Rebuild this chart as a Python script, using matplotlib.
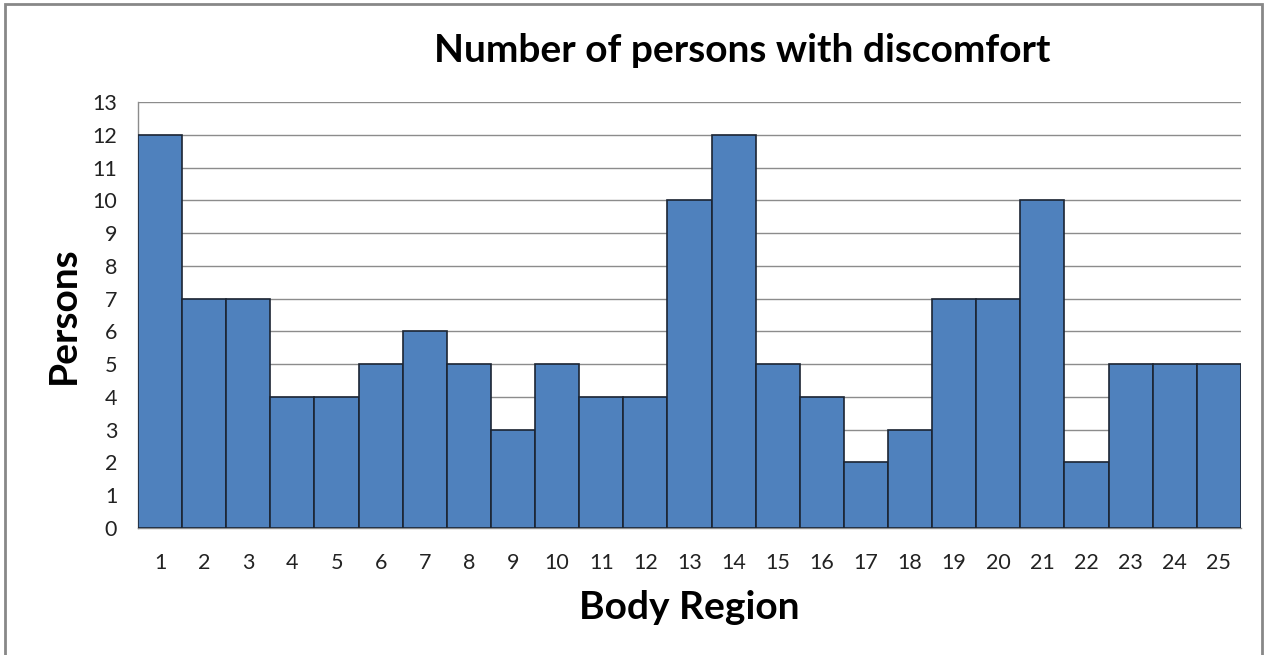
import numpy as np
import matplotlib.pyplot as plt
from matplotlib.patches import Rectangle

regions = list(range(1, 26))
persons = [12, 7, 7, 4, 4, 5, 6, 5, 3, 5, 4, 4, 10, 12, 5, 4, 2, 3, 7, 7, 10, 2, 5, 5, 5]
title = "Number of persons with discomfort"

plt.rcParams['font.family'] = ['Lato', 'DejaVu Sans']

fig = plt.figure(figsize=(12.65, 6.55), dpi=100)
ax = fig.add_axes([0.1091, 0.1939, 0.8719, 0.6504])

ax.bar(regions, persons, width=1.0, color='#4f81bd', edgecolor='#1c2533', linewidth=1.2, zorder=3)

ax.set_xlim(0.5, 25.5)
ax.set_ylim(0, 13)
ax.set_yticks(range(0, 14))
ax.set_xticks(regions)
ax.tick_params(length=0, labelsize=15.5, colors='#222222')
ax.tick_params(axis='x', pad=18)
ax.tick_params(axis='y', pad=15)
ax.grid(axis='y', color='#8c8c8c', linewidth=1.0, zorder=0)
for side in ['top', 'right']:
    ax.spines[side].set_visible(False)
for side in ['left', 'bottom']:
    ax.spines[side].set_color('#8c8c8c')
    ax.spines[side].set_linewidth(1.0)

ax.set_xlabel('Body Region', fontsize=28, fontweight='bold', labelpad=12)
ax.set_ylabel('Persons', fontsize=28, fontweight='bold', labelpad=8)
fig.text(0.587, 0.923, title, fontsize=28, fontweight='bold', ha='center', va='center')

# outer chart border
fig.patches.append(Rectangle((0.004, -0.01), 0.994, 1.004, transform=fig.transFigure,
                             fill=False, edgecolor='#888888', linewidth=2))

fig.savefig('out.png', dpi=100)
